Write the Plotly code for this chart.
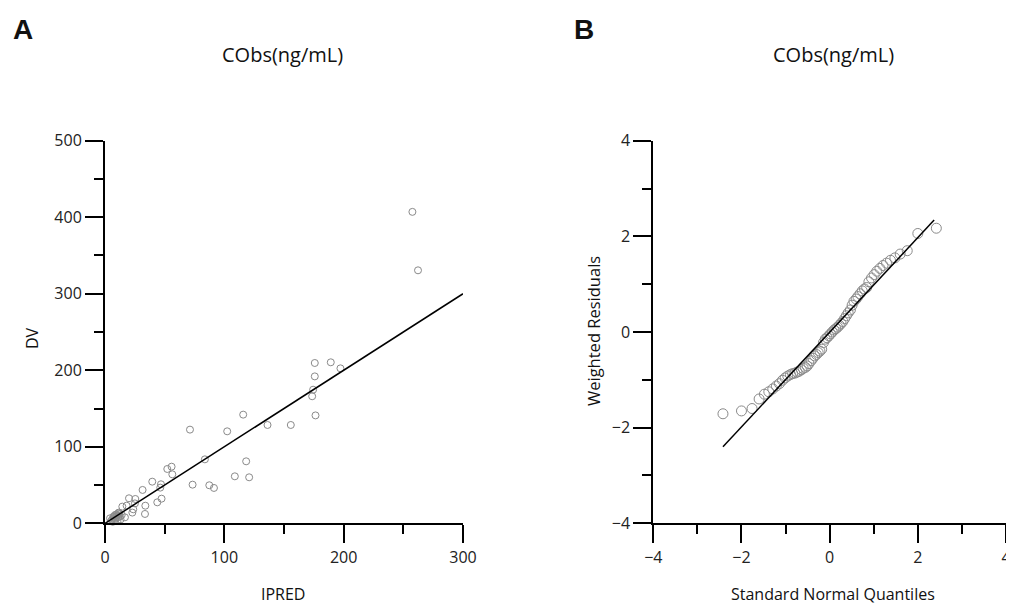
import plotly.graph_objects as go

# ---- Panel A: DV vs IPRED ----
ipred = [257.6, 262.3, 175.8, 189.2, 197.3, 175.8, 174.4, 173.6, 176.4, 115.8,
         136.2, 155.7, 71.2, 102.4, 83.7, 118.3, 108.8, 120.8, 73.4, 87.4,
         91.3, 52.2, 55.8, 56.4, 39.6, 46.9, 46.3, 31.5, 47.4, 43.8,
         33.8, 33.5, 20.1, 25.4, 25.1, 18.1, 14.5, 23.7, 22.9, 16.7,
         4.2, 7.0, 8.4, 11.2, 5.0, 6.0, 7.5, 8.0, 9.0, 10.0,
         11.0, 12.0, 13.0, 8.5, 10.5, 12.5, 14.0, 9.5, 6.5, 11.5]
dv = [407.0, 330.6, 209.5, 210.4, 202.5, 192.0, 174.6, 166.0, 141.0, 142.0,
      128.5, 128.5, 122.4, 120.2, 83.6, 81.0, 61.4, 60.1, 50.5, 49.7,
      46.2, 71.0, 74.0, 64.0, 54.4, 51.0, 46.6, 43.6, 32.2, 27.4,
      23.0, 12.2, 32.7, 31.8, 26.0, 23.0, 21.8, 18.3, 14.0, 7.8,
      6.5, 8.6, 10.8, 13.0, 3.0, 5.0, 7.0, 9.0, 6.0, 10.0,
      8.0, 12.0, 5.0, 4.0, 3.0, 9.0, 11.0, 11.5, 2.0, 14.0]
identity_x = [0, 300]
identity_y = [0, 300]

# ---- Panel B: QQ plot of weighted residuals ----
qq_x = [-2.42, -2.0, -1.76, -1.60, -1.48, -1.38, -1.29, -1.21, -1.14, -1.07,
        -1.01, -0.95, -0.89, -0.84, -0.79, -0.74, -0.69, -0.64, -0.60, -0.55,
        -0.51, -0.47, -0.42, -0.38, -0.34, -0.30, -0.26, -0.22, -0.18, -0.14,
        -0.10, -0.06, -0.02, 0.02, 0.06, 0.10, 0.14, 0.18, 0.22, 0.26,
        0.30, 0.34, 0.38, 0.42, 0.47, 0.51, 0.55, 0.60, 0.64, 0.69,
        0.74, 0.79, 0.84, 0.89, 0.95, 1.01, 1.07, 1.14, 1.21, 1.29,
        1.38, 1.48, 1.60, 1.76, 2.0, 2.42]
qq_y = [-1.71, -1.65, -1.60, -1.40, -1.30, -1.25, -1.19, -1.13, -1.08, -1.01,
        -0.96, -0.92, -0.89, -0.87, -0.86, -0.84, -0.82, -0.79, -0.76, -0.74,
        -0.71, -0.66, -0.60, -0.55, -0.50, -0.47, -0.43, -0.40, -0.36, -0.22,
        -0.15, -0.12, -0.08, -0.04, 0.0, 0.04, 0.07, 0.10, 0.14, 0.18,
        0.22, 0.28, 0.34, 0.40, 0.46, 0.56, 0.64, 0.69, 0.74, 0.80,
        0.86, 0.90, 0.93, 1.05, 1.13, 1.20, 1.27, 1.33, 1.39, 1.44,
        1.50, 1.55, 1.63, 1.70, 2.06, 2.17]
qq_line_x = [-2.42, 2.37]
qq_line_y = [-2.40, 2.34]

FONT = "Open Sans"
OFF = 8                      # page body margin
W, H = 1014 - OFF, 605 - OFF

def px(X):
    return (X - OFF) / W

def py(Y):
    return 1 - (Y - OFF) / H

fig = go.Figure()
fig.add_trace(go.Scatter(x=ipred, y=dv, mode="markers", xaxis="x", yaxis="y",
                         marker=dict(symbol="circle-open", size=7, color="#8a8a8a",
                                     line=dict(width=1)),
                         cliponaxis=False, showlegend=False))
fig.add_trace(go.Scatter(x=identity_x, y=identity_y, mode="lines", xaxis="x", yaxis="y",
                         line=dict(color="black", width=1.5), showlegend=False))
fig.add_trace(go.Scatter(x=qq_x, y=qq_y, mode="markers", xaxis="x2", yaxis="y2",
                         marker=dict(symbol="circle-open", size=10, color="#8a8a8a",
                                     line=dict(width=1)),
                         cliponaxis=False, showlegend=False))
fig.add_trace(go.Scatter(x=qq_line_x, y=qq_line_y, mode="lines", xaxis="x2", yaxis="y2",
                         line=dict(color="black", width=1.5), showlegend=False))

def ax(rng, dtick, minor_dtick, domain, anchor):
    return dict(range=rng, domain=domain, anchor=anchor, dtick=dtick, tick0=rng[0],
                automargin=False, ticklabeloverflow="allow",
                showline=True, linecolor="black", linewidth=2, showgrid=False,
                zeroline=False, ticks="outside", ticklen=18, tickwidth=2,
                tickcolor="black",
                minor=dict(dtick=minor_dtick, tick0=rng[0], ticks="outside", ticklen=9,
                           tickwidth=2, tickcolor="black", showgrid=False),
                tickfont=dict(family=FONT, size=16, color="#222"),
                fixedrange=True)

fig.update_layout(
    width=W, height=H,
    margin=dict(l=0, r=0, t=0, b=0, autoexpand=False),
    plot_bgcolor="white", paper_bgcolor="white",
    xaxis=ax([0, 300], 100, 50, [px(105), px(463)], "y"),
    yaxis=ax([0, 500], 100, 50, [py(523.3), py(140.7)], "x"),
    xaxis2=ax([-4, 4], 2, 1, [px(653.3), px(1006)], "y2"),
    yaxis2=ax([-4, 4], 2, 1, [py(523.3), py(140.7)], "x2"),
)

def ann(text, x, y, size=16, bold=False, angle=0, family=FONT):
    fig.add_annotation(text=f"<b>{text}</b>" if bold else text,
                       x=px(x), y=py(y), xref="paper", yref="paper",
                       showarrow=False, textangle=angle,
                       font=dict(family=family, size=size, color="#111"),
                       xanchor="center", yanchor="middle")

ann("A", 23, 30, size=28, bold=True, family="Liberation Sans")
ann("B", 584, 30, size=28, bold=True, family="Liberation Sans")
ann("CObs(ng/mL)", 282, 54, size=20)
ann("CObs(ng/mL)", 833, 54, size=20)
ann("IPRED", 283, 594, size=16)
ann("DV", 32, 338, size=16, angle=-90)
ann("Standard Normal Quantiles", 833, 594, size=16)
ann("Weighted Residuals", 593, 331, size=16.5, angle=-90)

fig.write_html("out.html")
